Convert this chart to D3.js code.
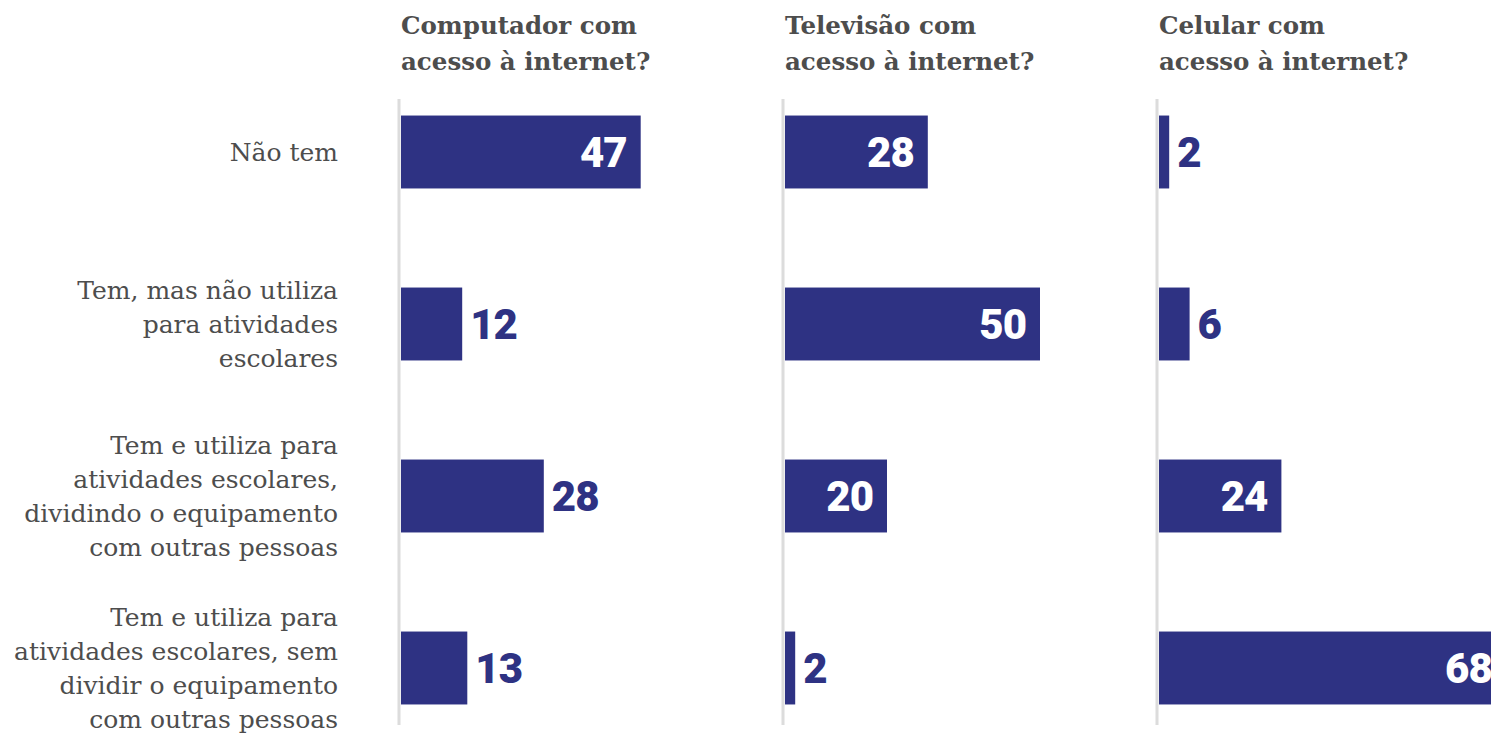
<!DOCTYPE html>
<html><head><meta charset="utf-8">
<script src="https://cdn.jsdelivr.net/npm/d3@7"></script>
<style>body{margin:0;background:#fff;overflow:hidden}</style>
</head><body>
<script>
// ---- data ----
const categories = [
  "Não tem",
  "Tem, mas não utiliza|para atividades|escolares",
  "Tem e utiliza para|atividades escolares,|dividindo o equipamento|com outras pessoas",
  "Tem e utiliza para|atividades escolares, sem|dividir o equipamento|com outras pessoas"
];
const panelTitles = ["Computador com|acesso à internet?", "Televisão com|acesso à internet?", "Celular com|acesso à internet?"];
const computador = [47, 12, 28, 13];
const televisao  = [28, 50, 20, 2];
const celular    = [2, 6, 24, 68];
const seriesValues = [computador, televisao, celular];

// ---- layout / style ----
const W = 1491, H = 736;
const barColor = "#2e3283", textColor = "#4d4d4d";
const panelX = [401, 785, 1159];
const insideLabel = [[true,false,false,false],[true,true,true,false],[false,false,true,true]];

const svg = d3.select("body").append("svg").attr("width", W).attr("height", H);

const y = d3.scaleBand().domain(d3.range(categories.length)).range([66, 754]).paddingInner(0.576).paddingOuter(0.288);
const x = d3.scaleLinear().domain([0, 10]).range([0, 51]);

// row labels
categories.forEach((c, i) => {
  const lines = c.split("|");
  const cy = y(i) + y.bandwidth() / 2;
  const lh = 34;
  const t = svg.append("text").attr("text-anchor", "end")
    .attr("font-family", "DejaVu Serif").attr("font-size", 25).attr("fill", textColor);
  lines.forEach((l, k) => {
    t.append("tspan").attr("x", 338)
      .attr("y", cy + (k - (lines.length - 1) / 2) * lh)
      .attr("dy", "0.35em").text(l);
  });
});

seriesValues.forEach((vals, p) => {
  const g = svg.append("g").attr("transform", `translate(${panelX[p]},0)`);
  // title
  const t = g.append("text").attr("font-family", "DejaVu Serif").attr("font-weight", "bold")
    .attr("font-size", 24.5).attr("fill", textColor);
  panelTitles[p].split("|").forEach((l, k) => {
    t.append("tspan").attr("x", 0).attr("y", 34 + k * 36).text(l);
  });
  // axis line
  g.append("line").attr("x1", -2).attr("x2", -2).attr("y1", 99).attr("y2", 725)
    .attr("stroke", "#dcdcdc").attr("stroke-width", 3);
  // bars
  g.selectAll("rect").data(vals).join("rect")
    .attr("x", 0).attr("y", (d, i) => y(i))
    .attr("width", d => x(d)).attr("height", y.bandwidth())
    .attr("fill", barColor);
  // values
  g.selectAll("text.v").data(vals).join("text").attr("class", "v")
    .attr("x", (d, i) => insideLabel[p][i] ? x(d) - 14 : x(d) + 8)
    .attr("y", (d, i) => y(i) + y.bandwidth() / 2)
    .attr("dy", "0.36em")
    .attr("text-anchor", (d, i) => insideLabel[p][i] ? "end" : "start")
    .attr("font-family", "Roboto").attr("font-weight", 900).attr("font-size", 42)
    .attr("letter-spacing", "-1px")
    .attr("fill", (d, i) => insideLabel[p][i] ? "#fff" : barColor)
    .text(d => d);
});
</script>
</body></html>
